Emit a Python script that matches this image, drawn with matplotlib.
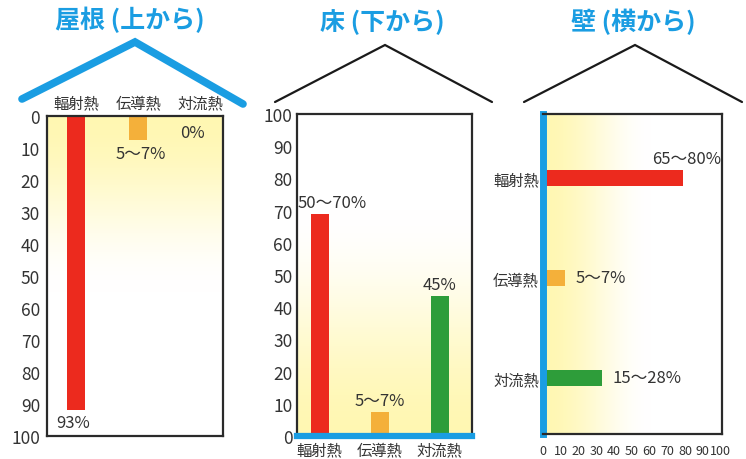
import numpy as np
import matplotlib.pyplot as plt
from matplotlib.lines import Line2D

plt.rcParams['font.family'] = ['Noto Sans CJK JP', 'DejaVu Sans']

categories = ['輻射熱', '伝導熱', '対流熱']

# roof (from above), axis inverted
roof_vals = [92, 7.5, 0]
roof_labels = ['93%', '5〜7%', '0%']
# floor (from below)
floor_vals = [69, 7.5, 43.5]
floor_labels = ['50〜70%', '5〜7%', '45%']
# wall (from the side)
wall_vals = [79, 12.5, 33]
wall_labels = ['65〜80%', '5〜7%', '15〜28%']

ticks = [0, 10, 20, 30, 40, 50, 60, 70, 80, 90, 100]
colors = ['#ec2a1e', '#f4b03a', '#2e9d3a']
blue = '#1a9de2'
edge = '#2a2a2a'
txt = '#333333'


def gradient(ax, direction, reach=0.6):
    # pale yellow fading to white
    t = np.linspace(0, 1, 256)
    fade = np.clip(t / reach, 0, 1)
    fade = fade * fade * (3 - 2 * fade)
    yellow = np.array([1.0, 0.97, 0.70])
    white = np.array([1.0, 1.0, 1.0])
    row = yellow[None, :] * (1 - fade[:, None]) + white[None, :] * fade[:, None]
    if direction == 'top':
        img = row[::-1][:, None, :]
    elif direction == 'bottom':
        img = row[:, None, :]
    else:
        img = row[None, :, :]
    ax.imshow(img, extent=(0, 1, 0, 1), origin='lower', transform=ax.transAxes,
              aspect='auto', zorder=0, interpolation='bilinear')


def frame(ax):
    for s in ax.spines.values():
        s.set_color(edge)
        s.set_linewidth(1.6)
    ax.tick_params(length=0, colors=txt)


fig = plt.figure(figsize=(7.46, 4.6), dpi=100)
x = np.arange(len(categories))

# ---- roof ----
ax1 = fig.add_axes([0.063, 0.05, 0.236, 0.696])
gradient(ax1, 'top', 0.55)
ax1.bar(x, roof_vals, width=0.29, color=colors, zorder=2)
ax1.set_xlim(-0.47, 2.37)
ax1.set_ylim(100, 0)
ax1.set_yticks(ticks)
ax1.set_xticks(x)
ax1.set_xticklabels(categories)
ax1.xaxis.tick_top()
frame(ax1)
ax1.tick_params(axis='x', pad=3, labelsize=11)
ax1.tick_params(axis='y', labelsize=12.5, pad=5)
ax1.text(x[0] - 0.05, roof_vals[0] + 1.2, roof_labels[0], ha='center', va='top', fontsize=12, color=txt)
ax1.text(x[1] + 0.05, roof_vals[1] + 1.5, roof_labels[1], ha='center', va='top', fontsize=12, color=txt)
ax1.text(1.88, 5.3, roof_labels[2], ha='center', va='center', fontsize=12, color=txt)

# ---- floor ----
ax2 = fig.add_axes([0.398, 0.05, 0.2346, 0.7])
gradient(ax2, 'bottom', 0.7)
ax2.bar(x, floor_vals, width=0.3, color=colors, zorder=2)
ax2.set_xlim(-0.38, 2.54)
ax2.set_ylim(0, 100)
ax2.set_yticks(ticks)
ax2.set_xticks(x)
ax2.set_xticklabels(categories)
frame(ax2)
ax2.tick_params(axis='x', pad=4, labelsize=11)
ax2.tick_params(axis='y', labelsize=12.5, pad=3)
ax2.spines['bottom'].set_color(blue)
ax2.spines['bottom'].set_linewidth(4.5)
ax2.text(x[0] + 0.2, floor_vals[0] + 0.8, floor_labels[0], ha='center', va='bottom', fontsize=12, color=txt)
ax2.text(x[1], floor_vals[1] + 0.8, floor_labels[1], ha='center', va='bottom', fontsize=12, color=txt)
ax2.text(x[2], floor_vals[2] + 0.8, floor_labels[2], ha='center', va='bottom', fontsize=12, color=txt)

# ---- wall ----
ax3 = fig.add_axes([0.728, 0.0543, 0.24, 0.696])
gradient(ax3, 'left', 0.6)
ax3.barh(x, wall_vals, height=0.16, color=colors, zorder=2)
ax3.set_ylim(2.56, -0.64)
ax3.set_xlim(0, 101)
ax3.set_xticks(ticks)
ax3.set_yticks(x)
ax3.set_yticklabels(categories)
frame(ax3)
ax3.tick_params(axis='x', labelsize=9, pad=7)
ax3.tick_params(axis='y', labelsize=11, pad=3)
ax3.spines['left'].set_color(blue)
ax3.spines['left'].set_linewidth(5)
ax3.text(wall_vals[0] + 2, x[0] - 0.11, wall_labels[0], ha='center', va='bottom', fontsize=12, color=txt)
ax3.text(wall_vals[1] + 6, x[1], wall_labels[1], ha='left', va='center', fontsize=12, color=txt)
ax3.text(wall_vals[2] + 6, x[2], wall_labels[2], ha='left', va='center', fontsize=12, color=txt)

# ---- roofs and titles ----
W, H = 746.0, 460.0


def roof(pts, color, lw):
    xs = [p[0] / W for p in pts]
    ys = [1 - p[1] / H for p in pts]
    fig.add_artist(Line2D(xs, ys, transform=fig.transFigure, color=color, lw=lw,
                          solid_capstyle='round', solid_joinstyle='miter'))


roof([(22, 100), (135, 43), (243, 105)], blue, 5.5)
roof([(275, 103), (385, 46), (492, 103)], '#1a1a1a', 1.6)
roof([(524, 103), (635, 46), (742, 103)], '#1a1a1a', 1.6)

fig.text(130 / W, 1 - 20 / H, '屋根 (上から)', ha='center', va='center', fontsize=18, fontweight='bold', color=blue)
fig.text(382 / W, 1 - 22 / H, '床 (下から)', ha='center', va='center', fontsize=18, fontweight='bold', color=blue)
fig.text(633 / W, 1 - 22 / H, '壁 (横から)', ha='center', va='center', fontsize=18, fontweight='bold', color=blue)

fig.savefig('out.png', dpi=100)
